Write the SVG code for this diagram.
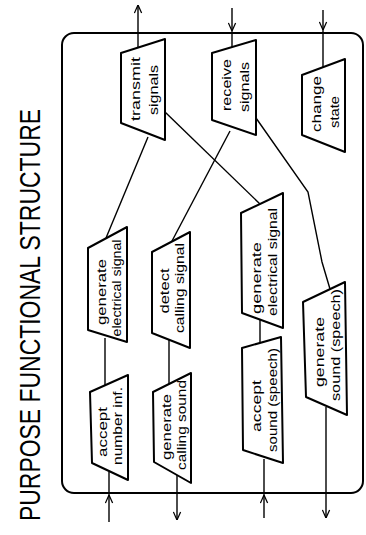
<svg xmlns="http://www.w3.org/2000/svg" width="366" height="535" viewBox="0 0 366 535">
<style>
.bg{fill:#fff}
.frame{fill:none;stroke:#000;stroke-width:2}
.box{fill:#fff;stroke:#000;stroke-width:2;stroke-linejoin:round}
.ln{fill:none;stroke:#000;stroke-width:1.4}
.lbl{font-family:"Liberation Sans",Arial,sans-serif;font-size:13px;fill:#000;text-anchor:middle}
.title{font-family:"Liberation Sans",Arial,sans-serif;font-size:24px;fill:#000}
</style>
<defs>
<marker id="ah" viewBox="0 0 10 10" refX="10" refY="5" markerWidth="9" markerHeight="9" markerUnits="userSpaceOnUse" orient="auto">
<path d="M1,1 L10,5 L1,9" fill="none" stroke="#000" stroke-width="1.4"/>
</marker>
</defs>
<rect class="bg" width="366" height="535"/>
<text class="title" transform="translate(40,521) rotate(-90) scale(1,1.25)" textLength="412" lengthAdjust="spacingAndGlyphs">PURPOSE FUNCTIONAL STRUCTURE</text>
<rect id="frame" class="frame" x="62" y="33" width="301" height="460" rx="12"/>
<g id="connectors">
<polyline class="ln" points="138,48 138,5" marker-end="url(#ah)"/>
<polyline class="ln" points="232,8 232,31 232,47" marker-mid="url(#ah)"/>
<polyline class="ln" points="323,10 323,30 323,67" marker-mid="url(#ah)"/>
<polyline class="ln" points="109,522 109,495 109,472" marker-mid="url(#ah)"/>
<polyline class="ln" points="177,474 177,520" marker-end="url(#ah)"/>
<polyline class="ln" points="264,518 264,495 264,459" marker-mid="url(#ah)"/>
<polyline class="ln" points="326,407 326,518" marker-end="url(#ah)"/>
<path class="ln" d="M148,137 L106,238"/>
<path class="ln" d="M165,112 L260,204"/>
<path class="ln" d="M230,131 L172,241"/>
<path class="ln" d="M256,118 L308,192 L322,262 L330,289"/>
<path class="ln" d="M105,338 L105,385"/>
<path class="ln" d="M169,340 L169,385"/>
<path class="ln" d="M260,318 L260,345"/>
</g>
<g id="transmit">
<polygon class="box" points="121,53 165,39 165,140 121,123"/>
<text class="lbl" transform="translate(140,89) rotate(-90)" textLength="64" lengthAdjust="spacingAndGlyphs">transmit</text>
<text class="lbl" transform="translate(158,90) rotate(-90)" textLength="50" lengthAdjust="spacingAndGlyphs">signals</text>
</g>
<g id="receive">
<polygon class="box" points="212,53 256,40 256,135 212,120"/>
<text class="lbl" transform="translate(231,85) rotate(-90)" textLength="52" lengthAdjust="spacingAndGlyphs">receive</text>
<text class="lbl" transform="translate(249,87) rotate(-90)" textLength="50" lengthAdjust="spacingAndGlyphs">signals</text>
</g>
<g id="change">
<polygon class="box" points="302,75 345,59 345,152 302,135"/>
<text class="lbl" transform="translate(321,104) rotate(-90)" textLength="56" lengthAdjust="spacingAndGlyphs">change</text>
<text class="lbl" transform="translate(339,112) rotate(-90)" textLength="32" lengthAdjust="spacingAndGlyphs">state</text>
</g>
<g id="gen-elec-1">
<polygon class="box" points="88,248 127,227 127,342 88,330"/>
<text class="lbl" transform="translate(106,292) rotate(-90)" textLength="66" lengthAdjust="spacingAndGlyphs">generate</text>
<text class="lbl" transform="translate(121,288) rotate(-90)" textLength="97" lengthAdjust="spacingAndGlyphs">electrical signal</text>
</g>
<g id="detect">
<polygon class="box" points="152,252 190,232 190,348 152,333"/>
<text class="lbl" transform="translate(169,291) rotate(-90)" textLength="45" lengthAdjust="spacingAndGlyphs">detect</text>
<text class="lbl" transform="translate(184,288) rotate(-90)" textLength="90" lengthAdjust="spacingAndGlyphs">calling signal</text>
</g>
<g id="accept-number">
<polygon class="box" points="90,392 128,375 128,480 92,463"/>
<text class="lbl" transform="translate(107,432) rotate(-90)" textLength="50" lengthAdjust="spacingAndGlyphs">accept</text>
<text class="lbl" transform="translate(122,426) rotate(-90)" textLength="78" lengthAdjust="spacingAndGlyphs">number inf.</text>
</g>
<g id="gen-calling">
<polygon class="box" points="153,392 191,373 191,483 154,462"/>
<text class="lbl" transform="translate(171,427) rotate(-90)" textLength="66" lengthAdjust="spacingAndGlyphs">generate</text>
<text class="lbl" transform="translate(186,425) rotate(-90)" textLength="90" lengthAdjust="spacingAndGlyphs">calling sound</text>
</g>
<g id="gen-elec-2">
<polygon class="box" points="241,213 283,193 283,328 242,313"/>
<text class="lbl" transform="translate(261,278) rotate(-90)" textLength="72" lengthAdjust="spacingAndGlyphs">generate</text>
<text class="lbl" transform="translate(277,262) rotate(-90)" textLength="108" lengthAdjust="spacingAndGlyphs">electrical signal</text>
</g>
<g id="accept-sound">
<polygon class="box" points="242,348 281,337 283,463 243,450"/>
<text class="lbl" transform="translate(261,406) rotate(-90)" textLength="52" lengthAdjust="spacingAndGlyphs">accept</text>
<text class="lbl" transform="translate(277,400) rotate(-90)" textLength="104" lengthAdjust="spacingAndGlyphs">sound (speech)</text>
</g>
<g id="gen-sound">
<polygon class="box" points="303,302 345,282 347,415 306,397"/>
<text class="lbl" transform="translate(324,352) rotate(-90)" textLength="70" lengthAdjust="spacingAndGlyphs">generate</text>
<text class="lbl" transform="translate(340,345) rotate(-90)" textLength="112" lengthAdjust="spacingAndGlyphs">sound (speech)</text>
</g>
</svg>
